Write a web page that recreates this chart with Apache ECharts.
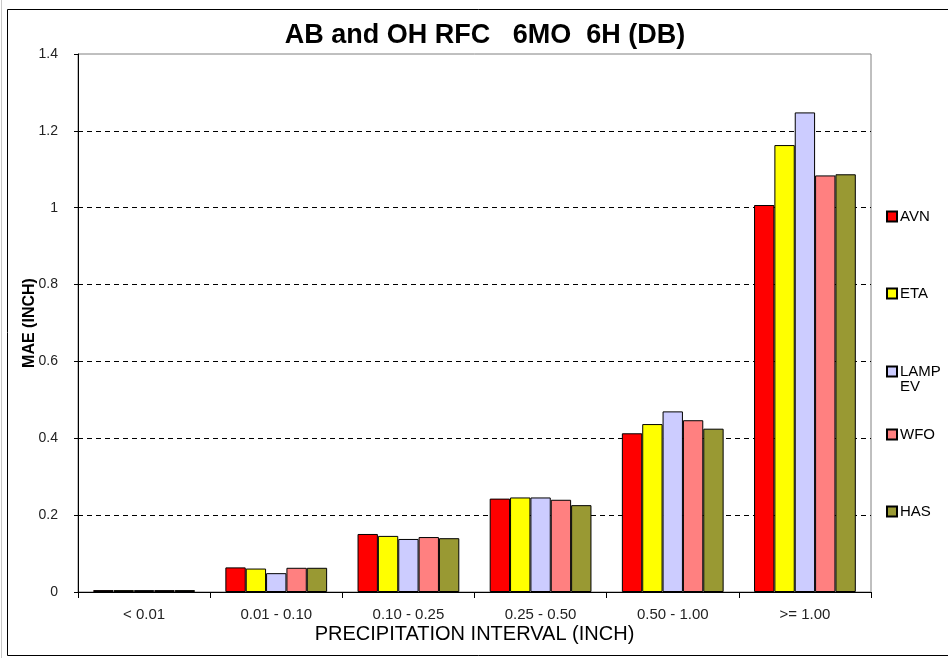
<!DOCTYPE html>
<html>
<head>
<meta charset="utf-8">
<script src="https://cdn.jsdelivr.net/npm/echarts@6/dist/echarts.min.js"></script>
<style>html,body{margin:0;padding:0;background:#fff}#c{width:948px;height:658px}</style>
</head>
<body>
<div id="c"></div>
<script>
const categories = ['< 0.01', '0.01 - 0.10', '0.10 - 0.25', '0.25 - 0.50', '0.50 - 1.00', '>= 1.00'];
const seriesNames = ['AVN', 'ETA', 'LAMP EV', 'WFO', 'HAS'];
const avn  = [0.005, 0.064, 0.151, 0.243, 0.413, 1.007];
const eta  = [0.005, 0.061, 0.146, 0.246, 0.437, 1.163];
const lamp = [0.005, 0.049, 0.138, 0.246, 0.470, 1.248];
const wfo  = [0.005, 0.063, 0.143, 0.240, 0.447, 1.084];
const has  = [0.005, 0.063, 0.140, 0.226, 0.425, 1.087];
const colors = ['#FF0000', '#FFFF00', '#CCCCFF', '#FF8080', '#999933'];
const yTicks = { min: 0, max: 1.4, interval: 0.2 };

const FONT = 'Liberation Sans, Arial, sans-serif';
const allData = [avn, eta, lamp, wfo, has];
const legendTops = [204, 281, 344, 422, 499];

const chart = echarts.init(document.getElementById('c'), null, { renderer: 'canvas' });
chart.setOption({
  animation: false,
  backgroundColor: '#fff',
  title: {
    text: 'AB and OH RFC   6MO  6H (DB)',
    left: 480,
    textAlign: 'center',
    top: 17,
    textStyle: { fontFamily: FONT, fontSize: 27, fontWeight: 'bold', color: '#000' }
  },
  graphic: [
    { type: 'rect', shape: { x: 7.5, y: 9.5, width: 960, height: 646 }, style: { fill: 'none', stroke: '#000', lineWidth: 1 }, silent: true },
    { type: 'line', shape: { x1: 1.5, y1: 0, x2: 1.5, y2: 658 }, style: { stroke: '#c8c8c8', lineWidth: 1 }, silent: true }
  ],
  grid: {
    left: 78, top: 54, right: 77, bottom: 66,
    show: true, borderColor: '#808080', borderWidth: 1, backgroundColor: '#fff'
  },
  legend: seriesNames.map(function (n, i) {
    return {
      orient: 'vertical',
      left: 881,
      top: legendTops[i],
      itemWidth: 10,
      itemHeight: 10,
      itemGap: 0,
      icon: 'rect',
      data: [n],
      formatter: function (nm) { return nm === 'LAMP EV' ? ' \nLAMP\nEV' : nm; },
      textStyle: { fontFamily: FONT, fontSize: 15, lineHeight: 15, color: '#000', align: 'left', padding: [0, 0, 0, -2] }
    };
  }),
  xAxis: {
    type: 'category',
    data: categories,
    name: 'PRECIPITATION INTERVAL (INCH)',
    nameLocation: 'middle',
    nameGap: 32,
    nameMoveOverlap: false,
    nameTextStyle: { fontFamily: FONT, fontSize: 20, color: '#000' },
    axisLine: { lineStyle: { color: '#000', width: 1 } },
    axisTick: { show: true, length: 6, lineStyle: { color: '#000' } },
    axisLabel: { fontFamily: FONT, fontSize: 15, color: '#222', margin: 15 }
  },
  yAxis: {
    type: 'value',
    min: yTicks.min,
    max: yTicks.max,
    interval: yTicks.interval,
    name: 'MAE (INCH)',
    nameLocation: 'middle',
    nameGap: 40,
    nameMoveOverlap: false,
    nameTextStyle: { fontFamily: FONT, fontSize: 16, fontWeight: 'bold', color: '#000' },
    axisLine: { show: true, lineStyle: { color: '#000', width: 1 } },
    axisTick: { show: true, length: 4, lineStyle: { color: '#000' } },
    axisLabel: { fontFamily: FONT, fontSize: 14, color: '#222', margin: 20 },
    splitLine: { show: true, showMinLine: false, showMaxLine: false, lineStyle: { color: '#000', type: [5, 4], width: 1 } }
  },
  series: seriesNames.map(function (n, i) {
    return {
      name: n,
      type: 'bar',
      data: allData[i],
      barGap: '0%',
      barCategoryGap: '23%',
      itemStyle: { color: colors[i], borderColor: '#000', borderWidth: 1 }
    };
  })
});
</script>
</body>
</html>
